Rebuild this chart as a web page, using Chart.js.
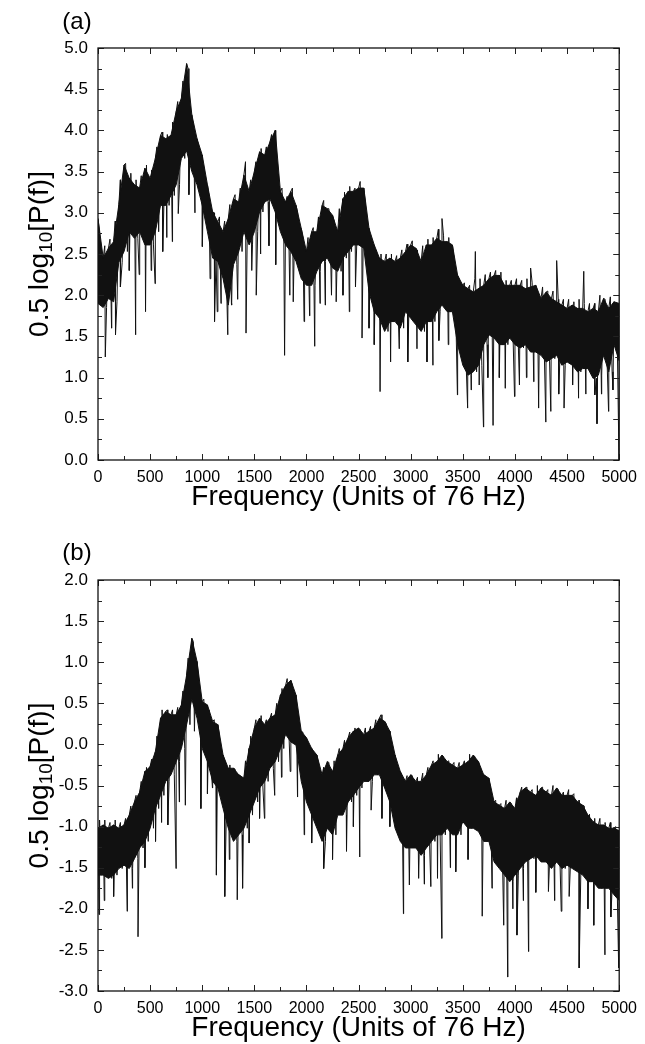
<!DOCTYPE html>
<html>
<head>
<meta charset="utf-8">
<script src="https://cdn.jsdelivr.net/npm/chart.js@4.4.1/dist/chart.umd.min.js"></script>
<style>
  body { margin: 0; background: #fff; }
  .panel { position: absolute; left: 0; width: 645px; height: 512px; }
</style>
</head>
<body>
<div class="panel" style="top:0"><canvas id="chartA" width="645" height="512"></canvas></div>
<div class="panel" style="top:531px"><canvas id="chartB" width="645" height="512"></canvas></div>
<script>
// spectrum: top and bottom of the dense band every 50 units,
// the highest spike inside each 50-unit bin, and the single deep dips
const freqStep = 50;

const topA = [
  2.93, 2.45, 2.57, 2.65, 3.1, 3.58, 3.42, 3.34, 3.3, 3.54,
  3.42, 3.66, 3.94, 3.9, 3.94, 4.23, 4.39, 4.81, 4.19, 3.9,
  3.7, 3.34, 3.01, 2.89, 2.77, 2.93, 3.17, 3.13, 3.46, 3.26,
  3.5, 3.74, 3.7, 3.86, 4.0, 3.26, 3.13, 3.26, 3.09, 2.81,
  2.53, 2.77, 2.77, 3.09, 3.05, 2.97, 2.77, 3.17, 3.26, 3.26,
  3.3, 3.3, 2.81, 2.61, 2.45, 2.41, 2.45, 2.41, 2.45, 2.53,
  2.61, 2.57, 2.41, 2.61, 2.61, 2.69, 2.65, 2.65, 2.61, 2.24,
  2.12, 2.08, 2.04, 2.08, 2.12, 2.2, 2.24, 2.24, 2.12, 2.12,
  2.12, 2.12, 2.08, 2.1, 2.12, 1.96, 2.04, 1.96, 1.92, 1.88,
  1.84, 1.88, 1.84, 1.84, 1.8, 1.84, 1.8, 1.96, 1.84, 1.92,
  1.9
];
const lowA = [
  1.9, 1.85, 1.96, 1.92, 2.4, 2.53, 2.77, 2.69, 2.77, 2.61,
  2.61, 2.77, 3.09, 3.09, 3.21, 3.34, 3.66, 3.75, 3.5, 3.34,
  3.09, 2.77, 2.45, 2.41, 2.2, 1.88, 2.37, 2.53, 2.77, 2.61,
  2.77, 3.01, 3.13, 3.17, 3.01, 2.77, 2.61, 2.53, 2.41, 2.2,
  2.12, 2.12, 2.29, 2.41, 2.45, 2.33, 2.29, 2.45, 2.53, 2.61,
  2.61, 2.57, 2.04, 1.8, 1.72, 1.56, 1.68, 1.68, 1.6, 1.8,
  1.72, 1.64, 1.56, 1.68, 1.68, 1.8, 1.88, 1.8, 1.8, 1.4,
  1.15, 1.03, 1.07, 1.15, 1.4, 1.52, 1.48, 1.4, 1.4, 1.48,
  1.4, 1.36, 1.4, 1.31, 1.31, 1.27, 1.19, 1.23, 1.27, 1.15,
  1.19, 1.15, 1.07, 1.11, 1.11, 0.99, 1.03, 1.27, 1.07, 1.4,
  1.2
];
const peakA = [
  2.75, 2.6, 2.68, 2.9, 3.4, 3.6, 3.48, 3.4, 3.45, 3.58,
  3.52, 3.8, 3.98, 3.95, 4.1, 4.35, 4.6, 4.75, 4.05, 3.8,
  3.55, 3.2, 3.0, 2.95, 2.9, 3.1, 3.22, 3.3, 3.62, 3.4,
  3.62, 3.78, 3.8, 3.95, 3.6, 3.3, 3.2, 3.3, 3.0, 2.7,
  2.7, 2.82, 2.95, 3.15, 3.05, 2.9, 3.05, 3.25, 3.32, 3.3,
  3.38, 3.1, 2.7, 2.55, 2.5, 2.5, 2.5, 2.48, 2.55, 2.62,
  2.66, 2.55, 2.6, 2.68, 2.7, 2.8, 2.72, 2.7, 2.45, 2.2,
  2.15, 2.12, 2.2, 2.2, 2.25, 2.28, 2.3, 2.28, 2.18, 2.18,
  2.2, 2.18, 2.2, 2.15, 2.05, 2.1, 2.05, 2.05, 1.95, 1.95,
  1.95, 1.92, 1.95, 1.9, 1.9, 1.9, 2.0, 1.95, 1.98, 1.9
];
const spikeFreqA = [70, 130, 168, 215, 300, 361, 395, 456, 510, 548, 621, 660, 713, 770, 872, 930, 1001,
  1075, 1118, 1144, 1180, 1245, 1280, 1340, 1420, 1475, 1518, 1560, 1640, 1705, 1790, 1840, 1873,
  1977, 2030, 2079, 2130, 2180, 2240, 2285, 2350, 2411, 2470, 2533, 2600, 2650, 2706, 2807, 2890,
  2972, 3060, 3156, 3213, 3270, 3300, 3360, 3448, 3546, 3580, 3620, 3657, 3698, 3740, 3790, 3850,
  3907, 3996, 4043, 4110, 4150, 4180, 4227, 4296, 4344, 4400, 4420, 4471, 4553, 4610, 4660, 4680,
  4766, 4787, 4830, 4898, 4940, 4998];
const spikeValA = [1.25, 1.6, 1.52, 2.1, 2.3, 1.52, 2.25, 1.8, 2.3, 2.14, 2.53, 2.7, 2.65, 2.99, 3.22, 3.0, 2.59,
  2.2, 1.68, 1.8, 1.9, 1.52, 1.9, 1.95, 1.54, 2.3, 2.0, 2.5, 2.6, 2.37, 1.27, 2.0, 1.92,
  1.68, 1.75, 1.38, 1.9, 1.88, 2.0, 1.92, 2.0, 1.8, 2.1, 1.48, 1.6, 1.4, 0.83, 1.19, 1.35,
  1.19, 1.35, 1.19, 1.15, 1.45, 2.93, 1.4, 0.79, 0.63, 0.85, 2.53, 0.91, 0.4, 1.0, 0.42, 1.0,
  0.87, 0.77, 0.91, 1.0, 2.33, 0.95, 0.63, 0.46, 0.59, 2.42, 0.8, 0.63, 0.91, 0.75, 2.29, 0.8,
  0.79, 0.44, 0.8, 0.59, 0.85, 0.0];

const topB = [
  -1.02, -0.98, -1.02, -0.98, -1.02, -0.98, -0.86, -0.70, -0.58, -0.33,
  -0.27, -0.09, 0.32, 0.40, 0.36, 0.36, 0.48, 0.84, 1.29, 1.01,
  0.52, 0.48, 0.28, 0.24, -0.13, -0.29, -0.29, -0.37, -0.41, -0.05,
  0.20, 0.32, 0.24, 0.32, 0.36, 0.60, 0.72, 0.78, 0.60, 0.16,
  0.08, -0.05, -0.13, -0.37, -0.21, -0.33, -0.13, -0.05, 0.08, 0.16,
  0.20, 0.12, 0.16, 0.20, 0.32, 0.28, 0.16, -0.13, -0.33, -0.45,
  -0.37, -0.45, -0.45, -0.37, -0.25, -0.21, -0.13, -0.21, -0.25, -0.29,
  -0.25, -0.21, -0.13, -0.21, -0.37, -0.41, -0.70, -0.74, -0.78, -0.70,
  -0.78, -0.58, -0.53, -0.58, -0.62, -0.53, -0.58, -0.62, -0.53, -0.62,
  -0.62, -0.62, -0.70, -0.74, -0.86, -0.94, -0.98, -0.98, -1.02, -1.02,
  -1.05
];
const lowB = [
  -1.59, -1.59, -1.63, -1.59, -1.51, -1.47, -1.51, -1.39, -1.26, -1.18,
  -1.02, -0.78, -0.62, -0.45, -0.37, -0.21, -0.05, 0.24, 0.55, 0.32,
  -0.05, -0.21, -0.45, -0.53, -0.78, -1.02, -1.18, -1.10, -1.02, -0.86,
  -0.70, -0.53, -0.45, -0.29, -0.21, -0.05, 0.12, 0.03, -0.01, -0.45,
  -0.70, -0.86, -1.02, -1.18, -1.02, -1.10, -0.86, -0.86, -0.70, -0.62,
  -0.53, -0.45, -0.45, -0.37, -0.37, -0.53, -0.70, -1.02, -1.18, -1.26,
  -1.26, -1.26, -1.35, -1.26, -1.18, -1.10, -1.10, -1.02, -1.10, -1.10,
  -0.94, -1.02, -1.02, -1.06, -1.18, -1.18, -1.43, -1.51, -1.59, -1.67,
  -1.59, -1.51, -1.43, -1.39, -1.35, -1.43, -1.43, -1.51, -1.43, -1.51,
  -1.47, -1.51, -1.55, -1.59, -1.67, -1.67, -1.75, -1.75, -1.75, -1.83,
  -1.9
];
const peakB = [
  -0.92, -0.92, -0.95, -0.92, -0.95, -0.9, -0.75, -0.62, -0.45, -0.28,
  -0.18, 0.1, 0.42, 0.42, 0.42, 0.45, 0.65, 1.05, 1.25, 0.8,
  0.55, 0.42, 0.3, 0.1, -0.2, -0.25, -0.3, -0.38, -0.2, 0.1,
  0.3, 0.35, 0.3, 0.38, 0.5, 0.68, 0.8, 0.72, 0.4, 0.15,
  0.0, -0.08, -0.25, -0.28, -0.22, -0.2, -0.05, 0.05, 0.15, 0.2,
  0.18, 0.2, 0.22, 0.3, 0.36, 0.25, 0.0, -0.25, -0.38, -0.38,
  -0.38, -0.4, -0.35, -0.28, -0.2, -0.12, -0.15, -0.2, -0.22, -0.22,
  -0.2, -0.12, -0.15, -0.28, -0.38, -0.55, -0.68, -0.72, -0.68, -0.72,
  -0.65, -0.52, -0.52, -0.55, -0.5, -0.52, -0.55, -0.5, -0.55, -0.58,
  -0.55, -0.6, -0.68, -0.75, -0.85, -0.9, -0.9, -0.95, -0.95, -1.0
];
const spikeFreqB = [10, 60, 150, 280, 330, 384, 450, 552, 610, 670, 749, 780, 838, 925, 987, 1050,
  1098, 1136, 1216, 1260, 1336, 1387, 1450, 1550, 1597, 1695, 1760, 1844, 1914, 1978, 2050, 2165,
  2250, 2384, 2450, 2511, 2620, 2724, 2800, 2930, 2987, 3076, 3130, 3193, 3257, 3298, 3380, 3432,
  3550, 3686, 3780, 3892, 3930, 3980, 4019, 4080, 4130, 4200, 4321, 4380, 4444, 4520, 4616, 4700,
  4756, 4863, 4920, 4995];
const spikeValB = [-2.07, -1.9, -1.85, -2.03, -1.75, -2.34, -1.5, -1.18, -0.95, -0.98, -1.51, -0.7, -0.74, 0.16, -0.78, -0.6,
  -0.53, -1.59, -1.85, -1.4, -1.89, -1.75, -1.2, -0.9, -0.90, -0.62, -0.4, -0.33, -0.64, -1.10, -1.2, -1.51,
  -1.4, -1.30, -1.0, -1.37, -0.8, -0.90, -1.0, -2.06, -1.71, -1.63, -1.7, -1.73, -1.63, -2.36, -1.5, -1.55,
  -1.4, -2.09, -1.75, -2.20, -2.83, -2.0, -2.32, -1.9, -2.52, -1.8, -1.79, -1.9, -2.03, -1.85, -2.72, -2.0,
  -2.20, -2.56, -2.1, -2.72];

const xTicks = [0, 500, 1000, 1500, 2000, 2500, 3000, 3500, 4000, 4500, 5000];
const FONT = '"Liberation Sans", Arial, Helvetica, sans-serif';
const INK = '#111';

// jagged trace: band top, bin spike, band bottom in each bin, deep dips merged in
function tracePoints(top, low, peak, spX, spY) {
  const pts = [];
  top.forEach((v, i) => {
    const x0 = i * freqStep;
    pts.push({x: x0, y: v});
    if (i < peak.length) {
      pts.push({x: x0 + 15, y: peak[i]});
      pts.push({x: x0 + 32, y: low[i]});
    }
  });
  spX.forEach((f, i) => pts.push({x: f, y: spY[i]}));
  pts.sort((a, b) => a.x - b.x);
  return pts;
}

const asPoints = arr => arr.map((v, i) => ({x: i * freqStep, y: v}));

// inward ticks on all four sides + box
const frameTicks = {
  id: 'frameTicks',
  afterDatasetsDraw(chart) {
    const {ctx, chartArea: a, scales: {x, y}} = chart;
    ctx.save();
    ctx.strokeStyle = '#222';
    ctx.lineWidth = 1;
    ctx.beginPath();
    for (let v = 0; v <= 5000; v += 250) {
      const px = Math.round(x.getPixelForValue(v)) + 0.5;
      const len = v % 500 === 0 ? 6 : 4;
      ctx.moveTo(px, a.bottom); ctx.lineTo(px, a.bottom - len);
      ctx.moveTo(px, a.top); ctx.lineTo(px, a.top + len);
    }
    for (let k = 0; k <= 20; k++) {
      const v = y.min + k * 0.25;
      const py = Math.round(y.getPixelForValue(v)) + 0.5;
      const len = k % 2 === 0 ? 6 : 4;
      ctx.moveTo(a.left, py); ctx.lineTo(a.left + len, py);
      ctx.moveTo(a.right, py); ctx.lineTo(a.right - len, py);
    }
    ctx.stroke();
    ctx.strokeStyle = '#111';
    ctx.lineWidth = 1.3;
    ctx.strokeRect(a.left, a.top, a.width, a.height);
    ctx.restore();
  }
};

// panel letter and y title with a real subscript
const sideText = {
  id: 'sideText',
  afterDraw(chart, args, opts) {
    const {ctx, chartArea: a} = chart;
    ctx.save();
    ctx.fillStyle = '#000';
    ctx.textBaseline = 'middle';
    ctx.textAlign = 'center';
    ctx.font = '24px ' + FONT;
    ctx.fillText(opts.label, 77, 22);

    const big = '28px ' + FONT, small = '19px ' + FONT;
    const parts = [['0.5 log', big, 0], ['10', small, 7], ['[P(f)]', big, 0]];
    let total = 0;
    parts.forEach(p => { ctx.font = p[1]; total += ctx.measureText(p[0]).width; });
    ctx.translate(40, (a.top + a.bottom) / 2);
    ctx.rotate(-Math.PI / 2);
    ctx.textAlign = 'left';
    let cx = -total / 2;
    parts.forEach(p => {
      ctx.font = p[1];
      ctx.fillText(p[0], cx, p[2]);
      cx += ctx.measureText(p[0]).width;
    });
    ctx.restore();
  }
};

function makeChart(id, top, low, peak, spX, spY, yMin, yMax, label, padTop) {
  return new Chart(document.getElementById(id), {
    type: 'line',
    data: {
      datasets: [
        {data: asPoints(top), borderColor: INK, backgroundColor: INK, borderWidth: 1,
          pointRadius: 0, tension: 0, fill: '+1'},
        {data: asPoints(low), borderColor: INK, borderWidth: 1,
          pointRadius: 0, tension: 0, fill: false},
        {data: tracePoints(top, low, peak, spX, spY), borderColor: INK, borderWidth: 1,
          pointRadius: 0, tension: 0, fill: false}
      ]
    },
    options: {
      responsive: false,
      animation: false,
      parsing: false,
      layout: {padding: {left: 0, right: 21, top: padTop, bottom: 0}},
      plugins: {
        legend: {display: false},
        tooltip: {enabled: false},
        sideText: {label: label}
      },
      scales: {
        x: {
          type: 'linear',
          min: 0, max: 5000,
          afterBuildTicks: s => { s.ticks = xTicks.map(v => ({value: v})); },
          afterFit: s => { s.height = 52; },
          grid: {display: false, drawTicks: false},
          border: {display: false},
          ticks: {
            autoSkip: false, maxRotation: 0, padding: 8, color: '#000',
            font: {family: FONT, size: 16},
            callback: v => String(v)
          },
          title: {
            display: true, text: 'Frequency (Units of 76 Hz)', color: '#000',
            font: {family: FONT, size: 28, lineHeight: 1}, padding: {top: 0, bottom: 1}
          }
        },
        y: {
          min: yMin, max: yMax,
          afterFit: s => { s.width = 98; },
          grid: {display: false, drawTicks: false},
          border: {display: false},
          ticks: {
            stepSize: 0.5, padding: 10, color: '#000',
            font: {family: FONT, size: 17},
            callback: v => Number(v).toFixed(1)
          }
        }
      }
    },
    plugins: [frameTicks, sideText]
  });
}

makeChart('chartA', topA, lowA, peakA, spikeFreqA, spikeValA, 0, 5, '(a)', 48);
makeChart('chartB', topB, lowB, peakB, spikeFreqB, spikeValB, -3, 2, '(b)', 49);
</script>
</body>
</html>
